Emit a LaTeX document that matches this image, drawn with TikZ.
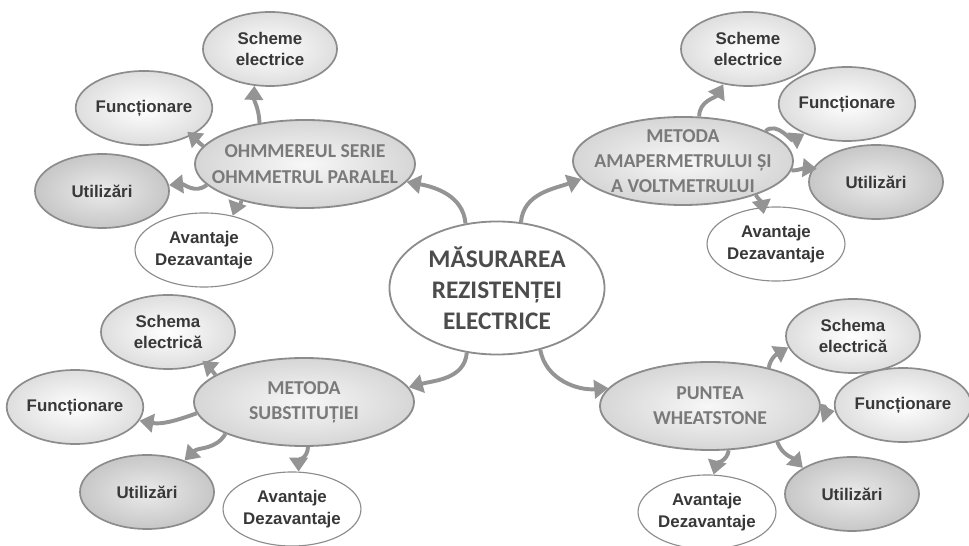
\documentclass[tikz,border=0pt]{standalone}
\usepackage{fontspec}
\setmainfont{Liberation Sans}
\newfontfamily\carlito{Carlito}
\usetikzlibrary{shapes.geometric,arrows.meta}
\definecolor{rimgray}{HTML}{8C8C8C}

\begin{document}
\begin{tikzpicture}[x=0.025cm, y=0.025cm,
        rootnode/.style={ellipse, draw=rimgray, fill=white, line width=1.3pt, minimum width=5.375cm, minimum height=3.325cm, inner sep=0pt, align=center, text=black!70, font={\carlito\bfseries\fontsize{18}{22}\selectfont}},
        methodnode/.style={ellipse, draw=rimgray, inner color=black!3, outer color=black!16, line width=1.3pt, minimum width=5.5cm, minimum height=2.2cm, inner xsep=-0.45cm, inner ysep=-0.2cm, align=center, text=black!52, font={\carlito\bfseries\fontsize{14}{18}\selectfont}},
        leafnode/.style={ellipse, draw=rimgray, inner color=white, outer color=black!13, line width=1.2pt, minimum width=3.35cm, minimum height=1.85cm, inner sep=0pt, align=center, text=black!78, font={\bfseries\fontsize{12}{15.5}\selectfont}},
        usenode/.style={leafnode, inner color=black!8, outer color=black!22},
        prosnode/.style={leafnode, inner color=white, outer color=white, line width=0.8pt},
        branch/.style={-{Triangle[length=10pt,width=13pt]}, color=black!42, line width=2.8pt},
    ]
    \useasboundingbox (0,0) rectangle (969,546);

    \node[rootnode] (root) at (497,258) {MĂSURAREA\\REZISTENȚEI\\ELECTRICE};

    \node[methodnode] (ohm) at (305,382) {OHMMEREUL SERIE\\OHMMETRUL PARALEL};
    \node[methodnode] (amp) at (683,385) {METODA\\AMAPERMETRULUI ȘI\\A VOLTMETRULUI};
    \node[methodnode] (sub) at (304,144) {METODA\\SUBSTITUȚIEI};
    \node[methodnode] (whe) at (710,140) {PUNTEA\\WHEATSTONE};

    \node[leafnode] (schtl)  at (270,497) {Scheme\\electrice};
    \node[leafnode] (functl) at (144,438) {Funcționare};
    \node[usenode]  (utiltl) at (102,355) {Utilizări};
    \node[prosnode] (avtl)   at (204,296) {Avantaje\\Dezavantaje};

    \node[leafnode] (schtr)  at (748,497) {Scheme\\electrice};
    \node[leafnode, minimum width=3.2cm] (functr) at (847,442) {Funcționare};
    \node[usenode]  (utiltr) at (876,364) {Utilizări};
    \node[prosnode] (avtr)   at (776,302) {Avantaje\\Dezavantaje};

    \node[leafnode] (schbl)  at (168,214) {Schema\\electrică};
    \node[leafnode] (funcbl) at (75,139)  {Funcționare};
    \node[usenode]  (utilbl) at (147,54)  {Utilizări};
    \node[prosnode] (avbl)   at (292,37)  {Avantaje\\Dezavantaje};

    \node[leafnode] (schbr)  at (853,210) {Schema\\electrică};
    \node[leafnode, minimum width=3.25cm] (funcbr) at (903,141) {Funcționare};
    \node[usenode]  (utilbr) at (852,52)  {Utilizări};
    \node[prosnode] (avbr)   at (707,34)  {Avantaje\\Dezavantaje};

    \path[branch] (root.116) edge[out=95,in=-10]   (ohm.-10)
                  (root.70)  edge[out=85,in=200]   (amp.190)
                  (root.-115) edge[out=-95,in=15]  (sub.8)
                  (root.-55) edge[out=-80,in=185]  (whe.170);

    \path[branch] (ohm.138) edge[out=92,in=-92]   (schtl.-113)
                  (ohm.170) edge[out=145,in=-40,shorten >=-4pt] (functl.-30)
                  (ohm.192) edge[out=220,in=5]    (utiltl.5)
                  (ohm.210) edge[out=-100,in=70]  (avtl.50);

    \path[branch] (amp.70)  edge[out=90,in=-120]  (schtr.-125)
                  (amp.20)  edge[out=40,in=210]   (functr.-145)
                  (amp.-5)  edge[out=0,in=175,shorten >=-3pt] (utiltr.168)
                  (amp.-25) edge[out=-60,in=100,shorten >=-5pt] (avtr.110);

    \path[branch] (sub.163) edge[out=130,in=-40,shorten >=-3pt]  (schbl.-40)
                  (sub.186) edge[out=200,in=-10]  (funcbl.-12)
                  (sub.202) edge[out=-120,in=45]  (utilbl.40)
                  (sub.-85) edge[out=-90,in=90]   (avbl.80);

    \path[branch] (whe.33)  edge[out=80,in=210]   (schbr.190)
                  (whe.0)   edge[out=10,in=190]   (funcbr.185)
                  (whe.-28) edge[out=-70,in=135]  (utilbr.152)
                  (whe.-67) edge[out=-100,in=75]  (avbr.80);
\end{tikzpicture}
\end{document}
